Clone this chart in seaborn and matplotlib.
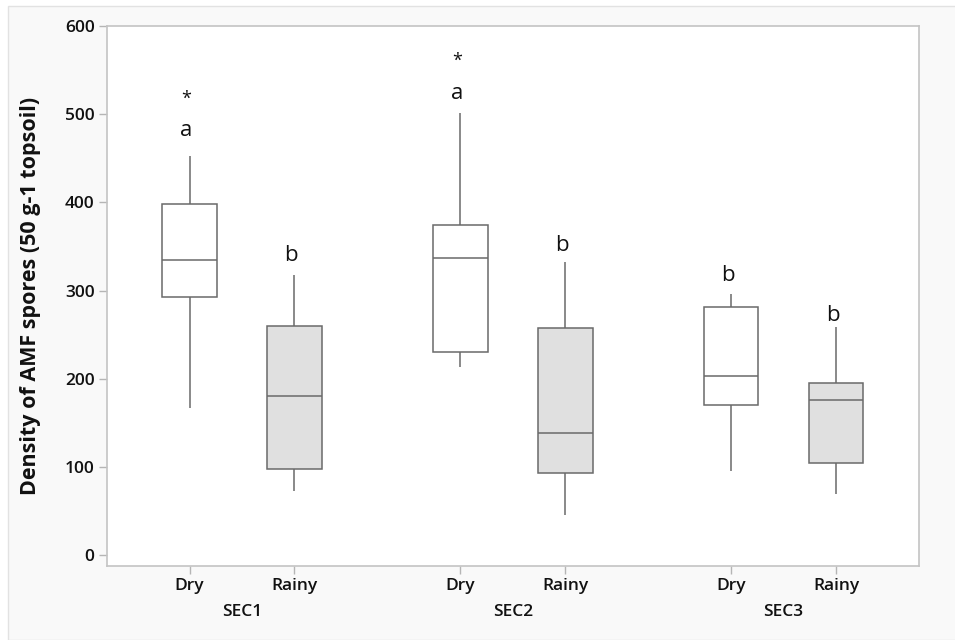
import numpy as np
import pandas as pd
import matplotlib
matplotlib.use("Agg")
import matplotlib.pyplot as plt
from matplotlib.patches import Rectangle
import seaborn as sns

# ---- data ----
sites = ["SEC1", "SEC2", "SEC3"]
seasons = ["Dry", "Rainy"]
# order: SEC1 Dry, SEC1 Rainy, SEC2 Dry, SEC2 Rainy, SEC3 Dry, SEC3 Rainy
mins    = [167.5, 73.2, 213.9, 45.3, 95.9, 69.5]
q1s     = [293.2, 97.8, 230.9, 93.6, 171.0, 105.3]
medians = [334.7, 180.4, 336.6, 138.9, 203.0, 176.6]
q3s     = [398.4, 259.6, 374.0, 257.4, 281.8, 195.5]
maxs    = [452.7, 317.4, 501.4, 332.1, 296.2, 258.9]
letters = ["a", "b", "a", "b", "b", "b"]
letter_y = [481.7, 340.0, 524.0, 351.7, 317.0, 271.7]
stars = ["*", "", "*", "", "", ""]
star_y = [518.0, 0, 561.0, 0, 0, 0]
yticks = [0, 100, 200, 300, 400, 500, 600]
ylabel = "Density of AMF spores (50 g-1 topsoil)"

# ---- build long table ----
group_gap = 2.58
rows = []
positions = []
k = 0
for gi, site in enumerate(sites):
    for si, season in enumerate(seasons):
        pos = gi * group_gap + si
        positions.append(pos)
        for v in (mins[k], q1s[k], medians[k], q3s[k], maxs[k]):
            rows.append({"pos": pos, "value": v, "season": season, "site": site})
        k += 1
df = pd.DataFrame(rows)

sns.set_theme(style="white")
plt.rcParams["font.family"] = ["Open Sans", "DejaVu Sans"]

fig = plt.figure(figsize=(9.55, 6.4), dpi=100)
fig.patch.set_facecolor("white")
fig.patches.append(Rectangle((8 / 955, 0), 1.0, 1 - 6 / 640, transform=fig.transFigure,
                             facecolor="#f9f9f9", edgecolor="#e2e2e2", linewidth=1.0,
                             zorder=-10))
ax = fig.add_axes([107 / 955, 1 - 566 / 640, (919 - 107) / 955, (566 - 26) / 640])
ax.set_facecolor("white")

edge = "#6a6a6a"
sns.boxplot(data=df, x="pos", y="value", hue="season", native_scale=True, dodge=False,
            palette={"Dry": "white", "Rainy": "#e0e0e0"}, width=0.52, whis=(0, 100),
            showcaps=False, linecolor=edge, linewidth=1.1, legend=False, ax=ax,
            boxprops=dict(edgecolor=edge), medianprops=dict(color=edge),
            whiskerprops=dict(color=edge))

for p, lt, ly, st, sy in zip(positions, letters, letter_y, stars, star_y):
    ax.text(p - 0.03, ly, lt, ha="center", va="center", fontsize=16, color="#111111")
    if st:
        ax.text(p - 0.03, sy, st, ha="center", va="center", fontsize=13, color="#111111")

ax.set_ylim(-12, 600)
ax.set_xlim(-0.786, 6.95)
ax.set_yticks(yticks)
ax.set_yticklabels([str(t) for t in yticks], fontsize=12.5, fontweight="semibold")
ax.set_xticks(positions)
ax.set_xticklabels([s for _ in sites for s in seasons], fontsize=12.5, fontweight="semibold")
ax.tick_params(axis="both", which="both", length=6, width=1, color="#b5b5b5",
               direction="out", left=True, bottom=True, pad=3, labelcolor="#111111")
ax.set_xlabel("")
ax.set_ylabel(ylabel, fontsize=15.5, fontweight="bold", color="#111111")
ax.yaxis.set_label_coords(-0.081, 0.5)

for sp in ax.spines.values():
    sp.set_color("#c4c4c4")
    sp.set_linewidth(1.2)

for gi, site in enumerate(sites):
    cx = gi * group_gap + 0.5
    ax.text(cx, -0.086, site, transform=ax.get_xaxis_transform(), ha="center", va="center",
            fontsize=12.5, fontweight="semibold", color="#111111")

fig.savefig("out.png", dpi=100, facecolor=fig.get_facecolor())
